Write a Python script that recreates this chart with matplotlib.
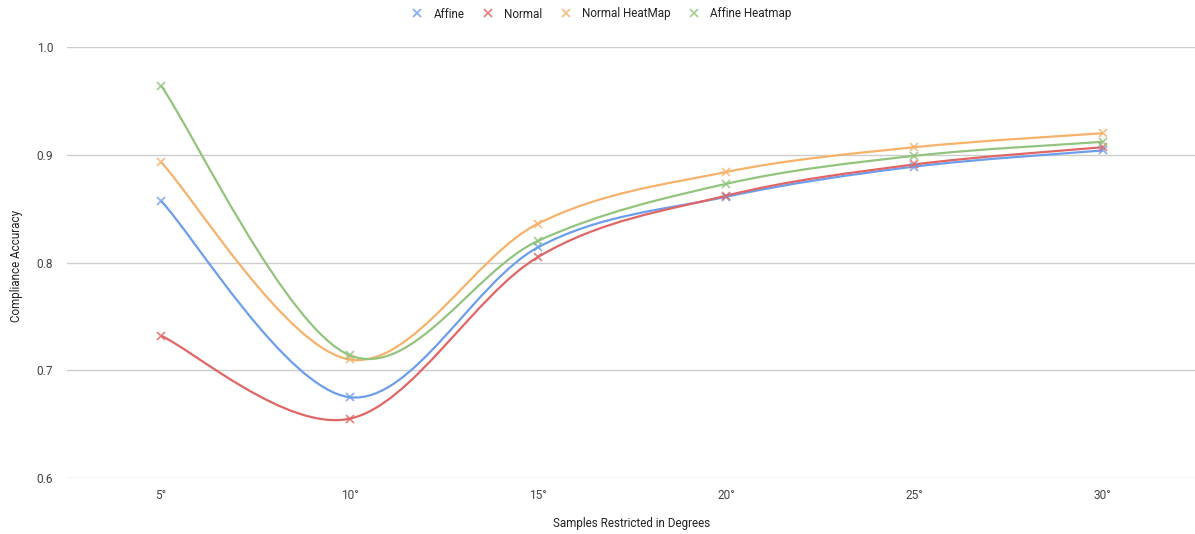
import matplotlib
matplotlib.use("Agg")
import matplotlib.pyplot as plt
from matplotlib.path import Path
from matplotlib.patches import PathPatch
from matplotlib.lines import Line2D
import numpy as np

plt.rcParams['font.family'] = ['Roboto', 'DejaVu Sans']

categories = ["5°", "10°", "15°", "20°", "25°", "30°"]
affine = [0.857, 0.675, 0.814, 0.861, 0.889, 0.904]
normal = [0.732, 0.655, 0.805, 0.862, 0.891, 0.907]
normal_heatmap = [0.893, 0.710, 0.836, 0.884, 0.907, 0.920]
affine_heatmap = [0.964, 0.714, 0.820, 0.873, 0.899, 0.912]

series = [
    ("Affine", affine, "#6d9eeb"),
    ("Normal", normal, "#e06666"),
    ("Normal HeatMap", normal_heatmap, "#f6b26b"),
    ("Affine Heatmap", affine_heatmap, "#93c47d"),
]
y_ticks = [0.6, 0.7, 0.8, 0.9, 1.0]


def smooth_path(xs, ys):
    pts = np.column_stack([xs, ys]).astype(float)
    n = len(pts)
    verts = [pts[0]]
    codes = [Path.MOVETO]
    for i in range(n - 1):
        p0 = pts[i - 1] if i > 0 else pts[i]
        p1 = pts[i]
        p2 = pts[i + 1]
        p3 = pts[i + 2] if i + 2 < n else pts[i + 1]
        c1 = p1 + (p2 - p0) / 6.0
        c2 = p2 - (p3 - p1) / 6.0
        verts += [c1, c2, p2]
        codes += [Path.CURVE4] * 3
    return Path(verts, codes)


fig = plt.figure(figsize=(11.95, 5.34), dpi=100)
ax = fig.add_axes([67 / 1195, 1 - 478 / 534, (1197 - 67) / 1195, (478 - 47) / 534])

x = np.arange(len(categories))
for name, vals, color in series:
    path = smooth_path(x, vals)
    ax.add_patch(PathPatch(path, facecolor="none", edgecolor=color, lw=1.6, zorder=3))
    ax.plot(x, vals, linestyle="none", marker="x", markersize=5.5, mew=1.3,
            color=color, alpha=0.8, zorder=4)

ax.set_xlim(-0.5, len(categories) - 0.5)
ax.set_ylim(0.6, 1.0)
ax.set_yticks(y_ticks)
ax.set_yticklabels([f"{v:.1f}" for v in y_ticks])
ax.set_xticks(x)
ax.set_xticklabels(categories)
ax.grid(axis="y", color="#cccccc", lw=1)
ax.set_axisbelow(True)
for s in ax.spines.values():
    s.set_visible(False)
ax.tick_params(axis="both", length=0, labelsize=8.6, labelcolor="#444444")
ax.tick_params(axis="y", pad=10)
ax.tick_params(axis="x", pad=8)

fig.text(632 / 1195, 1 - 523 / 534, "Samples Restricted in Degrees", ha="center", va="center",
         fontsize=8.4, color="#222222")
fig.text(17 / 1195, 1 - 266 / 534, "Compliance Accuracy", ha="center", va="center",
         rotation=90, fontsize=8.4, color="#222222")

handles = [Line2D([], [], linestyle="none", marker="x", markersize=5.5, mew=1.3,
                  color=c, alpha=0.8, label=n) for n, _, c in series]
fig.legend(handles=handles, loc="center", bbox_to_anchor=(602 / 1195, 1 - 14 / 534),
           ncol=4, frameon=False, fontsize=8.4, handlelength=0.8, handletextpad=1.0,
           columnspacing=1.6, labelcolor="#222222")

fig.savefig("out.png", dpi=100)
